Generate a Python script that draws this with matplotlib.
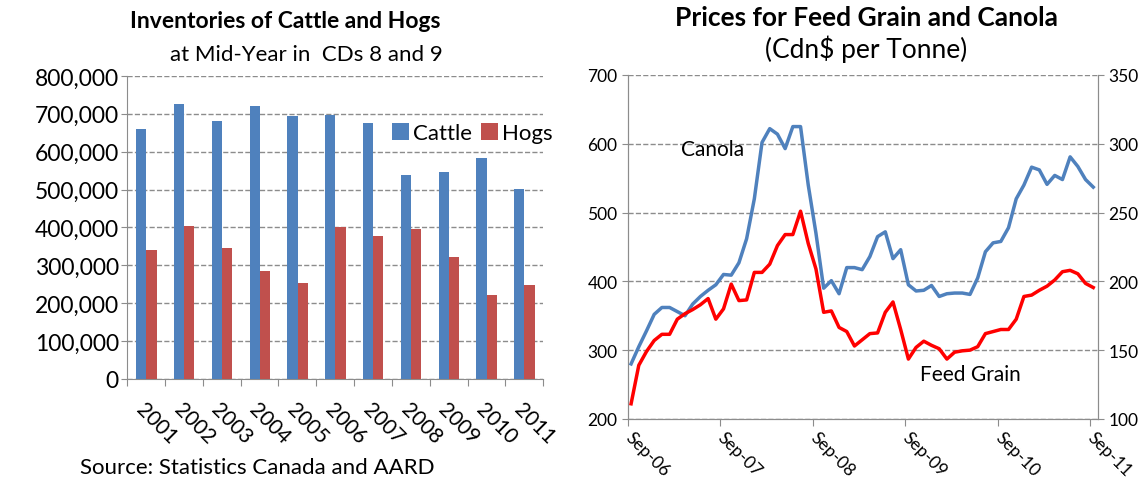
import numpy as np
import matplotlib.pyplot as plt

plt.rcParams['font.family'] = ['Lato', 'DejaVu Sans']

# left chart data
years = ['2001', '2002', '2003', '2004', '2005', '2006', '2007', '2008', '2009', '2010', '2011']
cattle = [660000, 725000, 680000, 720000, 693000, 698000, 675000, 538000, 547000, 583000, 502000]
hogs = [340000, 405000, 345000, 284000, 253000, 401000, 378000, 396000, 322000, 221000, 248000]

# right chart data, monthly Sep-06 .. Sep-11
canola = [280, 305, 328, 352, 362, 362, 356, 350, 367, 378, 387, 395, 410, 409, 427, 462,
          520, 602, 622, 614, 593, 625, 625, 540, 470, 390, 401, 382, 420, 420, 417, 436,
          465, 472, 433, 446, 395, 386, 387, 394, 378, 382, 383, 383, 381, 405, 443, 456,
          458, 478, 520, 540, 566, 562, 541, 554, 548, 581, 567, 548, 537]
feed_grain = [111, 139, 149, 157, 161.5, 161.5, 172.5, 176.5, 179.5, 183, 187.5, 172.5,
              180, 198, 186, 186.5, 206.5, 206.5, 212.5, 226, 234, 234, 251, 227.5, 209,
              177.5, 178.5, 166.5, 163.5, 153, 157.5, 162, 162.5, 177.5, 185, 165, 143.5,
              152, 156.5, 153.5, 151, 143.5, 148.5, 149.5, 150, 152.5, 162, 163.5, 165,
              165, 172.5, 189, 190, 193.5, 196.5, 201, 207, 208, 205.5, 198.5, 195.5]
date_labels = ['Sep-06', 'Sep-07', 'Sep-08', 'Sep-09', 'Sep-10', 'Sep-11']

blue = '#4F81BD'
red = '#C0504D'
gray = '#8C8C8C'

fig = plt.figure(figsize=(11.46, 4.81), dpi=100)

# ---------------- left: bar chart ----------------
ax1 = fig.add_axes([0.111, 0.21, 0.363, 0.63])
x = np.arange(len(years))
w = 0.27
ax1.bar(x - 0.13, cattle, w, color=blue, label='Cattle', zorder=3)
ax1.bar(x + 0.14, hogs, w, color=red, label='Hogs', zorder=3)
ax1.set_xlim(-0.5, len(years) - 0.5)
ax1.set_ylim(0, 800000)
ax1.set_yticks(np.arange(0, 800001, 100000))
ax1.set_yticklabels(['{:,}'.format(v) for v in range(0, 800001, 100000)], fontsize=16.5)
ax1.yaxis.grid(True, linestyle='--', color=gray, linewidth=1, zorder=0)
ax1.set_xticks(np.arange(-0.5, len(years), 1.0))
ax1.set_xticklabels([])
ax1.set_xticks(x, minor=True)
ax1.set_xticklabels(years, minor=True, rotation=-45, ha='left', rotation_mode='anchor', fontsize=15)
ax1.tick_params(axis='x', which='minor', length=0, pad=14)
ax1.tick_params(axis='x', which='major', length=5, color=gray)
ax1.tick_params(axis='y', length=4, color=gray, pad=2)
for s in ['top', 'right']:
    ax1.spines[s].set_visible(False)
for s in ['left', 'bottom']:
    ax1.spines[s].set_color(gray)
ax1.legend(loc='upper right', bbox_to_anchor=(1.07, 0.91), ncol=2, frameon=False, fontsize=16,
           handlelength=0.8, handleheight=0.8, handletextpad=0.15, columnspacing=0.4)

fig.text(0.249, 0.955, 'Inventories of Cattle and Hogs', ha='center', va='center',
         fontsize=16.5, fontweight='bold')
fig.text(0.267, 0.885, 'at Mid-Year in  CDs 8 and 9', ha='center', va='center', fontsize=16)
fig.text(0.07, 0.027, 'Source: Statistics Canada and AARD', ha='left', va='center', fontsize=16)

# ---------------- right: line chart ----------------
ax2 = fig.add_axes([0.548, 0.127, 0.41, 0.715])
ax3 = ax2.twinx()
m = np.arange(len(canola))
ax2.plot(m, canola, color=blue, linewidth=2.5, zorder=3)
ax3.plot(m, feed_grain, color='#FF0000', linewidth=2.5, zorder=3)
ax2.set_xlim(-0.4, 60.6)
ax2.set_ylim(200, 700)
ax3.set_ylim(100, 350)
ax2.set_yticks(np.arange(200, 701, 100))
ax3.set_yticks(np.arange(100, 351, 50))
ax2.tick_params(axis='y', labelsize=12.5, length=4, color=gray)
ax3.tick_params(axis='y', labelsize=12.5, length=4, color=gray)
ax2.yaxis.grid(True, linestyle='--', color=gray, linewidth=1)
ax2.set_xticks(np.arange(0, 61, 12) - 0.4)
ax2.set_xticklabels(date_labels, rotation=-45, ha='left', va='center',
                    rotation_mode='anchor', fontsize=12.5)
ax2.tick_params(axis='x', length=5, color=gray, pad=6)
for a in (ax2, ax3):
    a.spines['top'].set_visible(False)
    for s in ['left', 'right', 'bottom']:
        a.spines[s].set_color(gray)

ax2.text(10.6, 592, 'Canola', ha='center', va='center', fontsize=15)
ax2.text(44.1, 265, 'Feed Grain', ha='center', va='center', fontsize=15)

fig.text(0.756, 0.962, 'Prices for Feed Grain and Canola', ha='center', va='center',
         fontsize=19, fontweight='bold')
fig.text(0.756, 0.898, '(Cdn$ per Tonne)', ha='center', va='center', fontsize=19)

fig.savefig('out.png', dpi=100)
